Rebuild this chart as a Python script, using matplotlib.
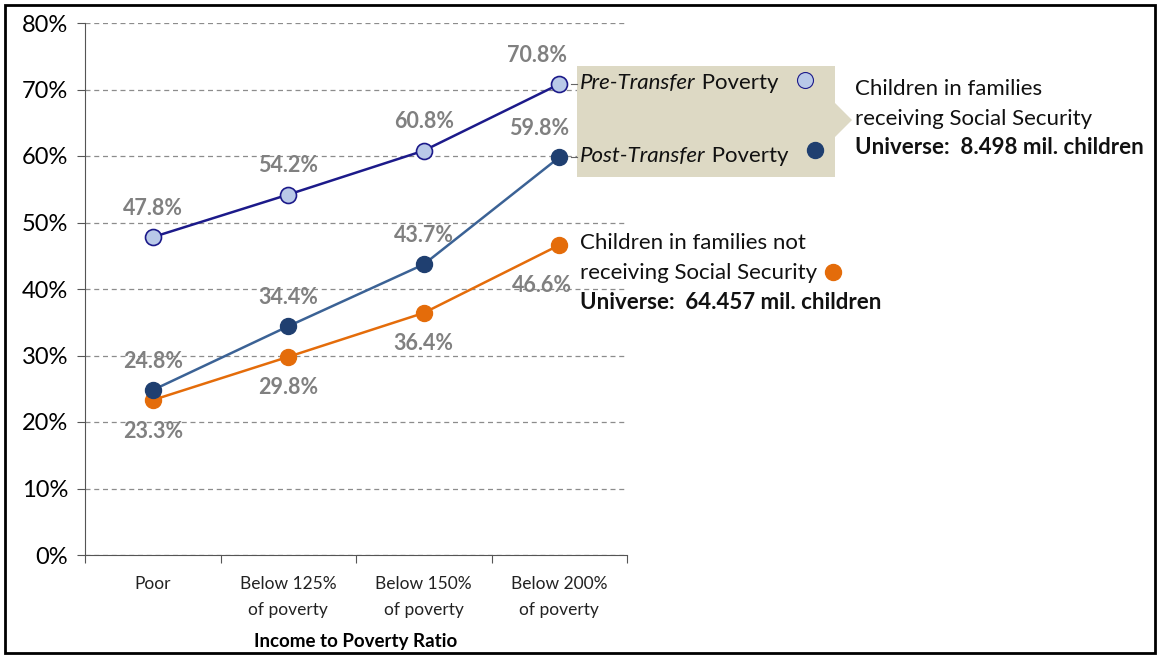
import matplotlib
matplotlib.use("Agg")
import matplotlib.pyplot as plt
from matplotlib.patches import Polygon, Rectangle
from matplotlib.lines import Line2D
from matplotlib.text import Annotation

plt.rcParams['font.family'] = ['Lato', 'DejaVu Sans']

categories = ["Poor", "Below 125%\nof poverty", "Below 150%\nof poverty", "Below 200%\nof poverty"]
pre_transfer = [47.8, 54.2, 60.8, 70.8]
post_transfer = [24.8, 34.4, 43.7, 59.8]
not_receiving = [23.3, 29.8, 36.4, 46.6]

W, H = 1159, 656
fig = plt.figure(figsize=(W / 100, H / 100), dpi=100)


def fx(px):
    return px / W


def fy(py):
    return 1 - py / H


ax = fig.add_axes([fx(85), fy(555), fx(627) - fx(85), fy(23) - fy(555)])

x = list(range(len(categories)))
navy = "#1c1a8a"
light = "#b9c9e8"
steel = "#3b6295"
dark = "#1f3f70"
orange = "#e46c0a"
grey = "#808080"
ink = "#111111"

ax.plot(x, pre_transfer, color=navy, lw=1.8, marker="o", ms=11.5,
        mfc=light, mec=navy, mew=1.2, zorder=4)
ax.plot(x, post_transfer, color=steel, lw=1.8, marker="o", ms=11.5,
        mfc=dark, mec=dark, zorder=4)
ax.plot(x, not_receiving, color=orange, lw=1.8, marker="o", ms=11.5,
        mfc=orange, mec=orange, zorder=3)

lab = dict(color=grey, fontsize=15.5, fontweight="bold", ha="center", va="center",
           textcoords="offset pixels")
for i, v in enumerate(pre_transfer):
    ax.annotate(f"{v:.1f}%", (i, v), xytext=(-22 if i == 3 else 0, 29), **lab)
for i, v in enumerate(post_transfer):
    ax.annotate(f"{v:.1f}%", (i, v), xytext=(-20 if i == 3 else 0, 29), **lab)
for i, v in enumerate(not_receiving):
    off = (-17, -40) if i == 3 else (0, -31)
    ax.annotate(f"{v:.1f}%", (i, v), xytext=off, **lab)

ax.set_xlim(-0.5, 3.5)
ax.set_ylim(0, 80)
ax.set_yticks(range(0, 81, 10))
ax.set_yticklabels([f"{t}%" for t in range(0, 81, 10)], fontsize=17)
ax.yaxis.grid(True, color="#8c8c8c", ls=(0, (4, 3)), lw=0.9)
ax.set_axisbelow(True)

ax.set_xticks([i - 0.5 for i in range(len(categories) + 1)])
ax.set_xticklabels([])
ax.set_xticks(x, minor=True)
ax.set_xticklabels(categories, minor=True, fontsize=12.5, color="#222222", linespacing=1.75)
ax.tick_params(axis="x", which="minor", length=0, pad=15)
ax.tick_params(axis="x", which="major", length=6, direction="out", color="#555555")
ax.tick_params(axis="y", length=6, direction="out", color="#555555", pad=6)
ax.set_xlabel("Income to Poverty Ratio", fontsize=13.5, fontweight="bold", labelpad=11)

for s in ["top", "right"]:
    ax.spines[s].set_visible(False)
for s in ["left", "bottom"]:
    ax.spines[s].set_color("#555555")

# callout box for the Social Security group
box = [(577, 66), (835, 66), (835, 103), (852, 120), (835, 137), (835, 177), (577, 177)]
fig.add_artist(Polygon([(fx(a), fy(b)) for a, b in box], closed=True,
                       transform=fig.transFigure, facecolor="#ddd9c4", edgecolor="none", zorder=1))

# short leader ticks between series end and the callout labels
for yy in (84, 157):
    fig.add_artist(Line2D([fx(571), fx(577)], [fy(yy), fy(yy)], color="#666666", lw=0.8,
                          transform=fig.transFigure, zorder=2))

t1 = fig.text(fx(580), fy(83), "Pre-Transfer", fontsize=16, style="italic", va="center", color=ink)
fig.add_artist(Annotation(" Poverty", xy=(1, 0.5), xycoords=t1, fontsize=16, va="center", color=ink))
t2 = fig.text(fx(580), fy(156), "Post-Transfer", fontsize=16, style="italic", va="center", color=ink)
fig.add_artist(Annotation(" Poverty", xy=(1, 0.5), xycoords=t2, fontsize=16, va="center", color=ink))

fig.add_artist(Line2D([fx(805)], [fy(80)], marker="o", ms=11.5, mfc=light, mec=navy,
                      mew=0.8, transform=fig.transFigure, zorder=3))
fig.add_artist(Line2D([fx(815)], [fy(150)], marker="o", ms=11.5, mfc=dark, mec=dark,
                      transform=fig.transFigure, zorder=3))

fig.text(fx(855), fy(89), "Children in families", fontsize=16, va="center", color=ink)
fig.text(fx(855), fy(119), "receiving Social Security", fontsize=16, va="center", color=ink)
fig.text(fx(855), fy(148), "Universe:  8.498 mil. children", fontsize=16, va="center",
         fontweight="bold", color=ink)

fig.text(fx(580), fy(243), "Children in families not", fontsize=16, va="center", color=ink)
fig.text(fx(580), fy(273), "receiving Social Security", fontsize=16, va="center", color=ink)
fig.add_artist(Line2D([fx(833)], [fy(272)], marker="o", ms=11.5, mfc=orange, mec=orange,
                      transform=fig.transFigure))
fig.text(fx(580), fy(302), "Universe:  64.457 mil. children", fontsize=16, va="center",
         fontweight="bold", color=ink)

fig.add_artist(Rectangle((fx(5), fy(653)), fx(1155) - fx(5), fy(5) - fy(653),
                         transform=fig.transFigure, fill=False, edgecolor="black", lw=2))

fig.savefig("out.png", dpi=100)
